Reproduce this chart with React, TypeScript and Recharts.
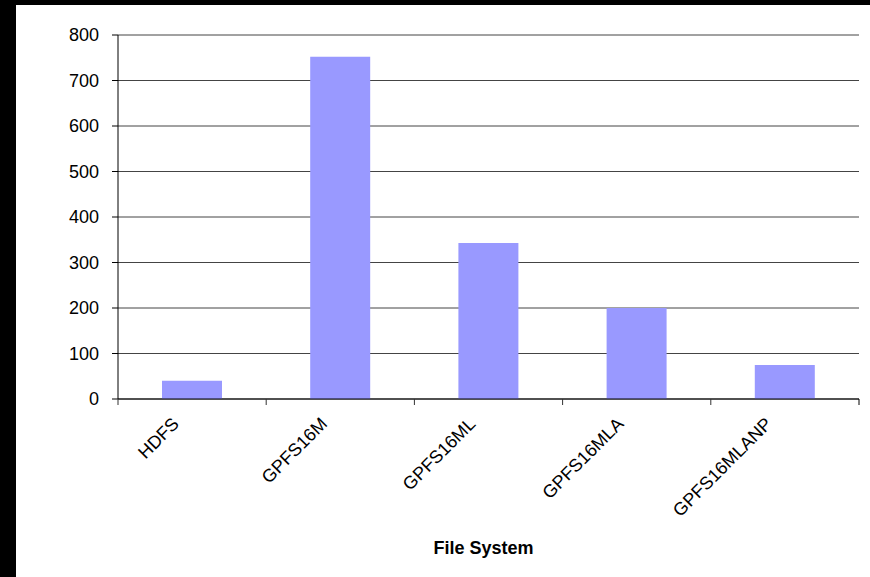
import React from 'react';
import { BarChart, Bar, XAxis, YAxis, CartesianGrid } from 'recharts';

const fileSystems = ['HDFS', 'GPFS16M', 'GPFS16ML', 'GPFS16MLA', 'GPFS16MLANP'];
const values = [40, 752, 343, 200, 75];
const yTicks = [0, 100, 200, 300, 400, 500, 600, 700, 800];

const FONT = '"Liberation Sans", Arial, sans-serif';

const CHART_W = 854;
const CHART_H = 572;
const MARGIN = { top: 30, right: 11, left: 0, bottom: 0 };
const Y_AXIS_W = 102;
const BAND = (CHART_W - MARGIN.right - MARGIN.left - Y_AXIS_W) / fileSystems.length;

const chartData = fileSystems.map((name, i) => ({ name, value: values[i] }));

const CategoryTick = (props: any) => {
    const { x, y, payload, index } = props;
    const last = index === fileSystems.length - 1;
    const ax = x - 12;
    const ay = y + 26;
    return (
        <g>
            <line x1={x - BAND / 2} x2={x - BAND / 2} y1={y} y2={y + 6} stroke="#333" />
            {last && <line x1={x + BAND / 2} x2={x + BAND / 2} y1={y} y2={y + 6} stroke="#000" />}
            <text
                x={ax}
                y={ay}
                textAnchor="end"
                transform={`rotate(-45, ${ax}, ${ay})`}
                fontSize={18}
                fontFamily={FONT}
                fill="#000"
            >
                {payload.value}
            </text>
        </g>
    );
};

export default function App() {
    return (
        <div style={{ position: 'absolute', left: 0, top: 0, width: 870, height: 577, background: '#000' }}>
            <div style={{ position: 'absolute', left: 16, top: 5, width: CHART_W, height: CHART_H, background: '#fff' }}>
                <BarChart width={CHART_W} height={CHART_H} data={chartData} margin={MARGIN}>
                    <CartesianGrid vertical={false} stroke="#444" />
                    <XAxis
                        dataKey="name"
                        height={178}
                        axisLine={{ stroke: '#000' }}
                        tickLine={false}
                        tickSize={0}
                        tickMargin={0}
                        interval={0}
                        tick={<CategoryTick />}
                        label={{
                            content: (p: any) => {
                                const vb = p.viewBox;
                                return (
                                    <text
                                        x={vb.x + vb.width / 2 - 5}
                                        y={vb.y + vb.height - 23}
                                        textAnchor="middle"
                                        fontSize={18}
                                        fontWeight="bold"
                                        fontFamily={FONT}
                                        fill="#000"
                                    >
                                        File System
                                    </text>
                                );
                            },
                        }}
                    />
                    <YAxis
                        width={Y_AXIS_W}
                        domain={[0, 800]}
                        ticks={yTicks}
                        interval={0}
                        axisLine={{ stroke: '#000' }}
                        tickLine={{ stroke: '#000' }}
                        tickSize={6}
                        tickMargin={13}
                        tick={{ fontSize: 18, fontFamily: FONT, fill: '#000' }}
                    />
                    <Bar dataKey="value" fill="#9999FF" barSize={60} isAnimationActive={false} />
                </BarChart>
            </div>
        </div>
    );
}
